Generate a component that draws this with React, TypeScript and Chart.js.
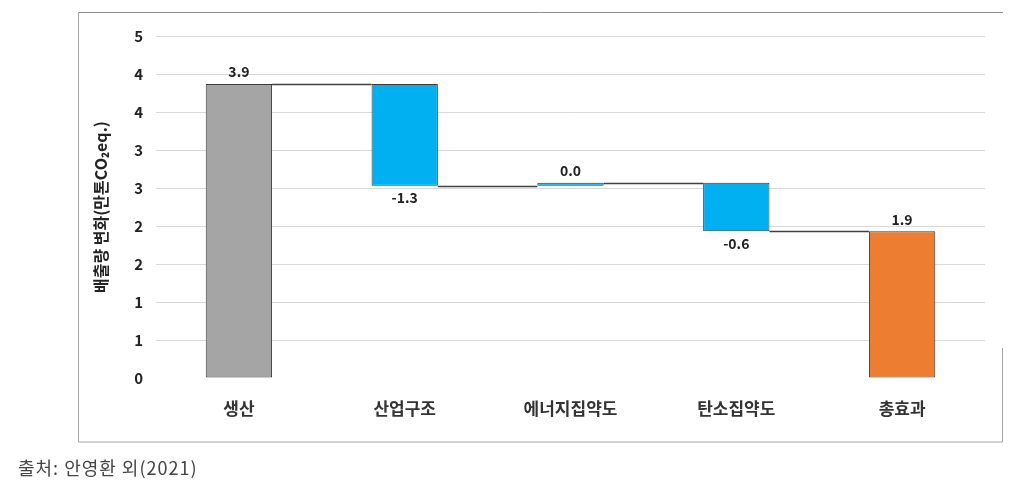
import { useEffect, useRef } from 'react';
import { Chart, registerables } from 'chart.js';

Chart.register(...registerables);

const FONT = '"Noto Sans CJK KR", "Noto Sans", sans-serif';

const categories = ['생산', '산업구조', '에너지집약도', '탄소집약도', '총효과'];
// effects (last entry is the total)
const changes = [3.87, -1.34, 0.04, -0.64, 1.93];
const valueLabels = ['3.9', '-1.3', '0.0', '-0.6', '1.9'];
const barColors = ['#a5a5a5', '#00b0f0', '#00b0f0', '#00b0f0', '#ed7d31'];
const yTickValues = [0, 0.5, 1, 1.5, 2, 2.5, 3, 3.5, 4, 4.5];
const yTickLabels = ['0', '1', '1', '2', '2', '3', '3', '4', '4', '5'];
const yTitle = '배출량 변화(만톤CO₂eq.)';
const sourceText = '출처: 안영환 외(2021)';

function buildFloating(): [number, number][] {
  const out: [number, number][] = [];
  let level = 0;
  changes.forEach((c, i) => {
    if (i === changes.length - 1) {
      out.push([0, c]);
    } else {
      out.push([level, level + c]);
      level += c;
    }
  });
  return out;
}

const floating = buildFloating();

const framePlugin = {
  id: 'frame',
  beforeDraw(chart: any) {
    const ctx = chart.ctx;
    ctx.save();
    ctx.lineWidth = 1;
    ctx.strokeStyle = '#8c8c8c';
    ctx.beginPath();
    ctx.moveTo(78, 12.5);
    ctx.lineTo(1003, 12.5);
    ctx.stroke();
    ctx.strokeStyle = '#a6a6a6';
    ctx.beginPath();
    ctx.moveTo(78.5, 12);
    ctx.lineTo(78.5, 442);
    ctx.lineTo(1002.5, 442);
    ctx.lineTo(1002.5, 348);
    ctx.stroke();
    ctx.restore();
  },
};

const waterfallPlugin = {
  id: 'waterfall',
  afterDatasetsDraw(chart: any) {
    const ctx = chart.ctx;
    const yScale = chart.scales.y;
    const els = chart.getDatasetMeta(0).data;
    ctx.save();
    ctx.strokeStyle = '#404040';
    ctx.lineWidth = 1.5;
    for (let i = 0; i < els.length - 1; i++) {
      const a = els[i];
      const b = els[i + 1];
      const y = Math.round(yScale.getPixelForValue(floating[i][1])) + 0.5;
      ctx.beginPath();
      ctx.moveTo(a.x + a.width / 2, y);
      ctx.lineTo(b.x - b.width / 2, y);
      ctx.stroke();
    }
    ctx.fillStyle = '#222';
    ctx.font = `bold 14px ${FONT}`;
    ctx.textAlign = 'center';
    ctx.textBaseline = 'middle';
    els.forEach((el: any, i: number) => {
      const p0 = yScale.getPixelForValue(floating[i][0]);
      const p1 = yScale.getPixelForValue(floating[i][1]);
      const top = Math.min(p0, p1);
      const bottom = Math.max(p0, p1);
      if (changes[i] >= 0) {
        ctx.fillText(valueLabels[i], el.x, top - 12);
      } else {
        ctx.fillText(valueLabels[i], el.x, bottom + 12);
      }
    });
    ctx.restore();
  },
};

export default function App() {
  const ref = useRef<HTMLCanvasElement>(null);
  useEffect(() => {
    if (!ref.current) return;
    const chart = new Chart(ref.current, {
      type: 'bar',
      data: {
        labels: categories,
        datasets: [
          {
            data: floating as any,
            backgroundColor: barColors,
            borderColor: '#3a3a3a',
            borderWidth: 1,
            borderSkipped: false,
            barPercentage: 0.4,
            categoryPercentage: 1,
          },
        ],
      },
      options: {
        responsive: false,
        animation: false,
        devicePixelRatio: 1,
        layout: { padding: { left: 0, right: 31, top: 36, bottom: 49 } },
        plugins: { legend: { display: false }, tooltip: { enabled: false } },
        scales: {
          x: {
            grid: { display: false },
            border: { display: false },
            ticks: {
              font: { family: FONT, size: 17, weight: 'bold' },
              color: '#333',
              padding: 12,
            },
            afterFit: (s: any) => {
              s.height = 60;
            },
          },
          y: {
            min: 0,
            max: 4.5,
            afterBuildTicks: (s: any) => {
              s.ticks = yTickValues.map((v) => ({ value: v }));
            },
            ticks: {
              callback: (_v: any, i: number) => yTickLabels[i],
              font: { family: FONT, size: 15, weight: 'bold' },
              color: '#222',
              padding: 13,
            },
            grid: {
              color: (c: any) => (c.tick && c.tick.value === 0 ? 'rgba(0,0,0,0)' : '#d9d9d9'),
              drawTicks: false,
              lineWidth: 1,
            },
            border: { display: false },
            title: {
              display: true,
              text: yTitle,
              font: { family: FONT, size: 16, weight: 'bold' },
              color: '#222',
              padding: { top: 91, bottom: 0 },
            },
            afterFit: (s: any) => {
              s.width = 156;
            },
          },
        },
      } as any,
      plugins: [framePlugin, waterfallPlugin],
    });
    return () => chart.destroy();
  }, []);

  return (
    <div style={{ position: 'fixed', left: 0, top: 0, width: 1016, height: 487, background: '#fff' }}>
      <canvas ref={ref} width={1016} height={487} style={{ display: 'block' }} />
      <div
        style={{
          position: 'absolute',
          left: 18,
          top: 454,
          fontFamily: FONT,
          fontSize: 18,
          letterSpacing: 1,
          lineHeight: '26px',
          color: '#444',
          whiteSpace: 'nowrap',
        }}
      >
        {sourceText}
      </div>
    </div>
  );
}
